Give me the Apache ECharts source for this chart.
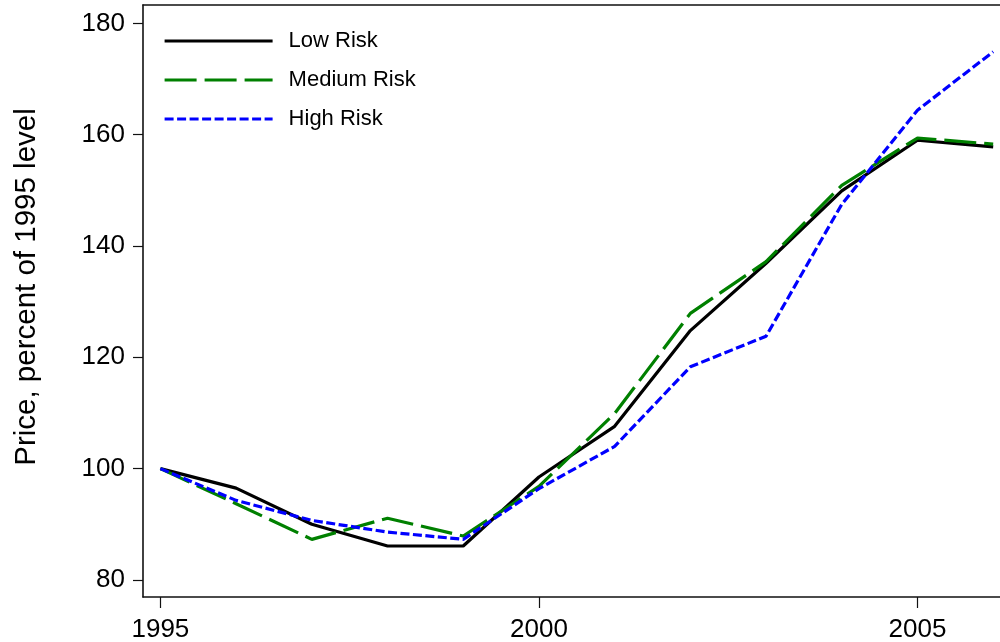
<!DOCTYPE html>
<html>
<head>
<meta charset="utf-8">
<script src="https://cdn.jsdelivr.net/npm/echarts@6/dist/echarts.min.js"></script>
<style>
html,body{margin:0;padding:0;background:#fff;}
#chart{width:1000px;height:642px;}
</style>
</head>
<body>
<div id="chart"></div>
<script>
const years = [1995, 1996, 1997, 1998, 1999, 2000, 2001, 2002, 2003, 2004, 2005, 2006];
const lowRisk = [100, 96.5, 90.0, 86.1, 86.1, 98.5, 107.6, 124.8, 136.9, 149.9, 159.0, 157.8];
const mediumRisk = [100, 93.7, 87.3, 91.1, 87.9, 96.8, 109.9, 127.9, 137.2, 150.9, 159.4, 158.3];
const highRisk = [100, 94.3, 90.7, 88.6, 87.3, 96.4, 104.0, 118.3, 123.8, 147.5, 164.4, 174.9];
const xTicks = [1995, 2000, 2005];
const yTicks = [80, 100, 120, 140, 160, 180];
const seriesNames = ['Low Risk', 'Medium Risk', 'High Risk'];
const yTitle = 'Price, percent of 1995 level';

const FONT = "'Liberation Sans', Arial, Helvetica, sans-serif";
const pairs = arr => years.map((y, i) => [y, arr[i]]);
const X_MIN = 1994.77, X_MAX = 2006.09;

const chart = echarts.init(document.getElementById('chart'), null, {renderer: 'canvas'});
chart.setOption({
  animation: false,
  backgroundColor: '#fff',
  grid: {left: 143, top: 5, right: 0, bottom: 45, show: false, containLabel: false, outerBoundsMode: 'none'},
  legend: {
    orient: 'vertical',
    left: 163, top: 30, padding: 0,
    itemWidth: 108, itemHeight: 22, itemGap: 17,
    itemStyle: {opacity: 0},
    lineStyle: {width: 3.2},
    textStyle: {fontFamily: FONT, fontSize: 22, color: '#000', padding: [0, 0, 0, 11]},
    data: seriesNames
  },
  xAxis: [{
    type: 'value', position: 'bottom',
    min: X_MIN, max: X_MAX,
    axisLine: {show: true, onZero: false, lineStyle: {color: '#111', width: 1.6}},
    axisTick: {show: true, length: 11, inside: false, customValues: xTicks, lineStyle: {color: '#111', width: 1.2}},
    axisLabel: {customValues: xTicks, margin: 20, fontFamily: FONT, fontSize: 26, color: '#000', formatter: v => String(v)},
    splitLine: {show: false}
  }, {
    type: 'value', position: 'top',
    min: X_MIN, max: X_MAX,
    axisLine: {show: true, onZero: false, lineStyle: {color: '#111', width: 1.6}},
    axisTick: {show: false}, axisLabel: {show: false}, splitLine: {show: false}
  }],
  yAxis: {
    type: 'value',
    min: 76.94, max: 183.3,
    axisLine: {show: true, onZero: false, lineStyle: {color: '#111', width: 1.6}},
    axisTick: {show: true, length: 10, inside: false, customValues: yTicks, lineStyle: {color: '#111', width: 1.2}},
    axisLabel: {customValues: yTicks, margin: 18, fontFamily: FONT, fontSize: 26, color: '#000'},
    splitLine: {show: false}
  },
  graphic: [{
    type: 'text',
    x: 27, y: 287,
    rotation: Math.PI / 2,
    style: {text: yTitle, font: '29.5px ' + FONT, fill: '#000', textAlign: 'center', textVerticalAlign: 'middle'}
  }],
  series: [
    {name: seriesNames[0], type: 'line', data: pairs(lowRisk), symbol: 'none', z: 2,
      lineStyle: {color: '#000', width: 3.2, type: 'solid'}, itemStyle: {color: '#000'}},
    {name: seriesNames[1], type: 'line', data: pairs(mediumRisk), symbol: 'none', z: 3,
      lineStyle: {color: '#008000', width: 3.2, type: [32, 8]}, itemStyle: {color: '#008000'}},
    {name: seriesNames[2], type: 'line', data: pairs(highRisk), symbol: 'none', z: 4,
      lineStyle: {color: '#0000ff', width: 3.2, type: [9, 3.5]}, itemStyle: {color: '#0000ff'}}
  ]
});
</script>
</body>
</html>
